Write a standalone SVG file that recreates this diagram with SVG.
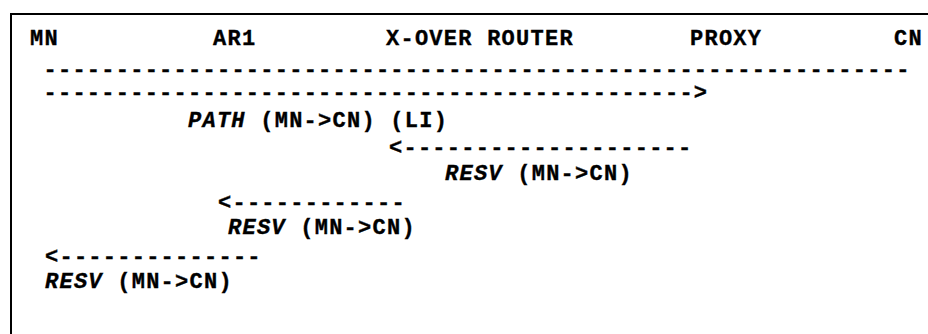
<svg xmlns="http://www.w3.org/2000/svg" width="928" height="334" viewBox="0 0 928 334">
<style>
text{font-family:"Liberation Mono","Courier New",monospace;font-weight:bold;font-size:22px;letter-spacing:1.25px;fill:#000;stroke:#000;stroke-width:0.35;white-space:pre}
.it{font-style:italic}
.frame{stroke:#000;stroke-width:2;fill:none}
</style>
<rect width="928" height="334" fill="#fff"/>
<path class="frame" d="M11,334 V14 H928"/>
<g id="node-MN"><text x="30" y="45">MN</text></g>
<g id="node-AR1"><text x="213" y="45">AR1</text></g>
<g id="node-XOVER"><text x="386" y="45">X-OVER ROUTER</text></g>
<g id="node-PROXY"><text x="690" y="45">PROXY</text></g>
<g id="node-CN"><text x="894" y="45">CN</text></g>
<g id="connectors">
<text x="43.5" y="76">------------------------------------------------------------</text>
<text x="43.5" y="99">---------------------------------------------&gt;</text>
<text x="389" y="154">&lt;--------------------</text>
<text x="218" y="209">&lt;------------</text>
<text x="45" y="263">&lt;--------------</text>
</g>
<g id="labels">
<text x="188" y="127"><tspan class="it">PATH</tspan> (MN-&gt;CN) (LI)</text>
<text x="445" y="180"><tspan class="it">RESV</tspan> (MN-&gt;CN)</text>
<text x="228" y="234"><tspan class="it">RESV</tspan> (MN-&gt;CN)</text>
<text x="45" y="288"><tspan class="it">RESV</tspan> (MN-&gt;CN)</text>
</g>
</svg>
